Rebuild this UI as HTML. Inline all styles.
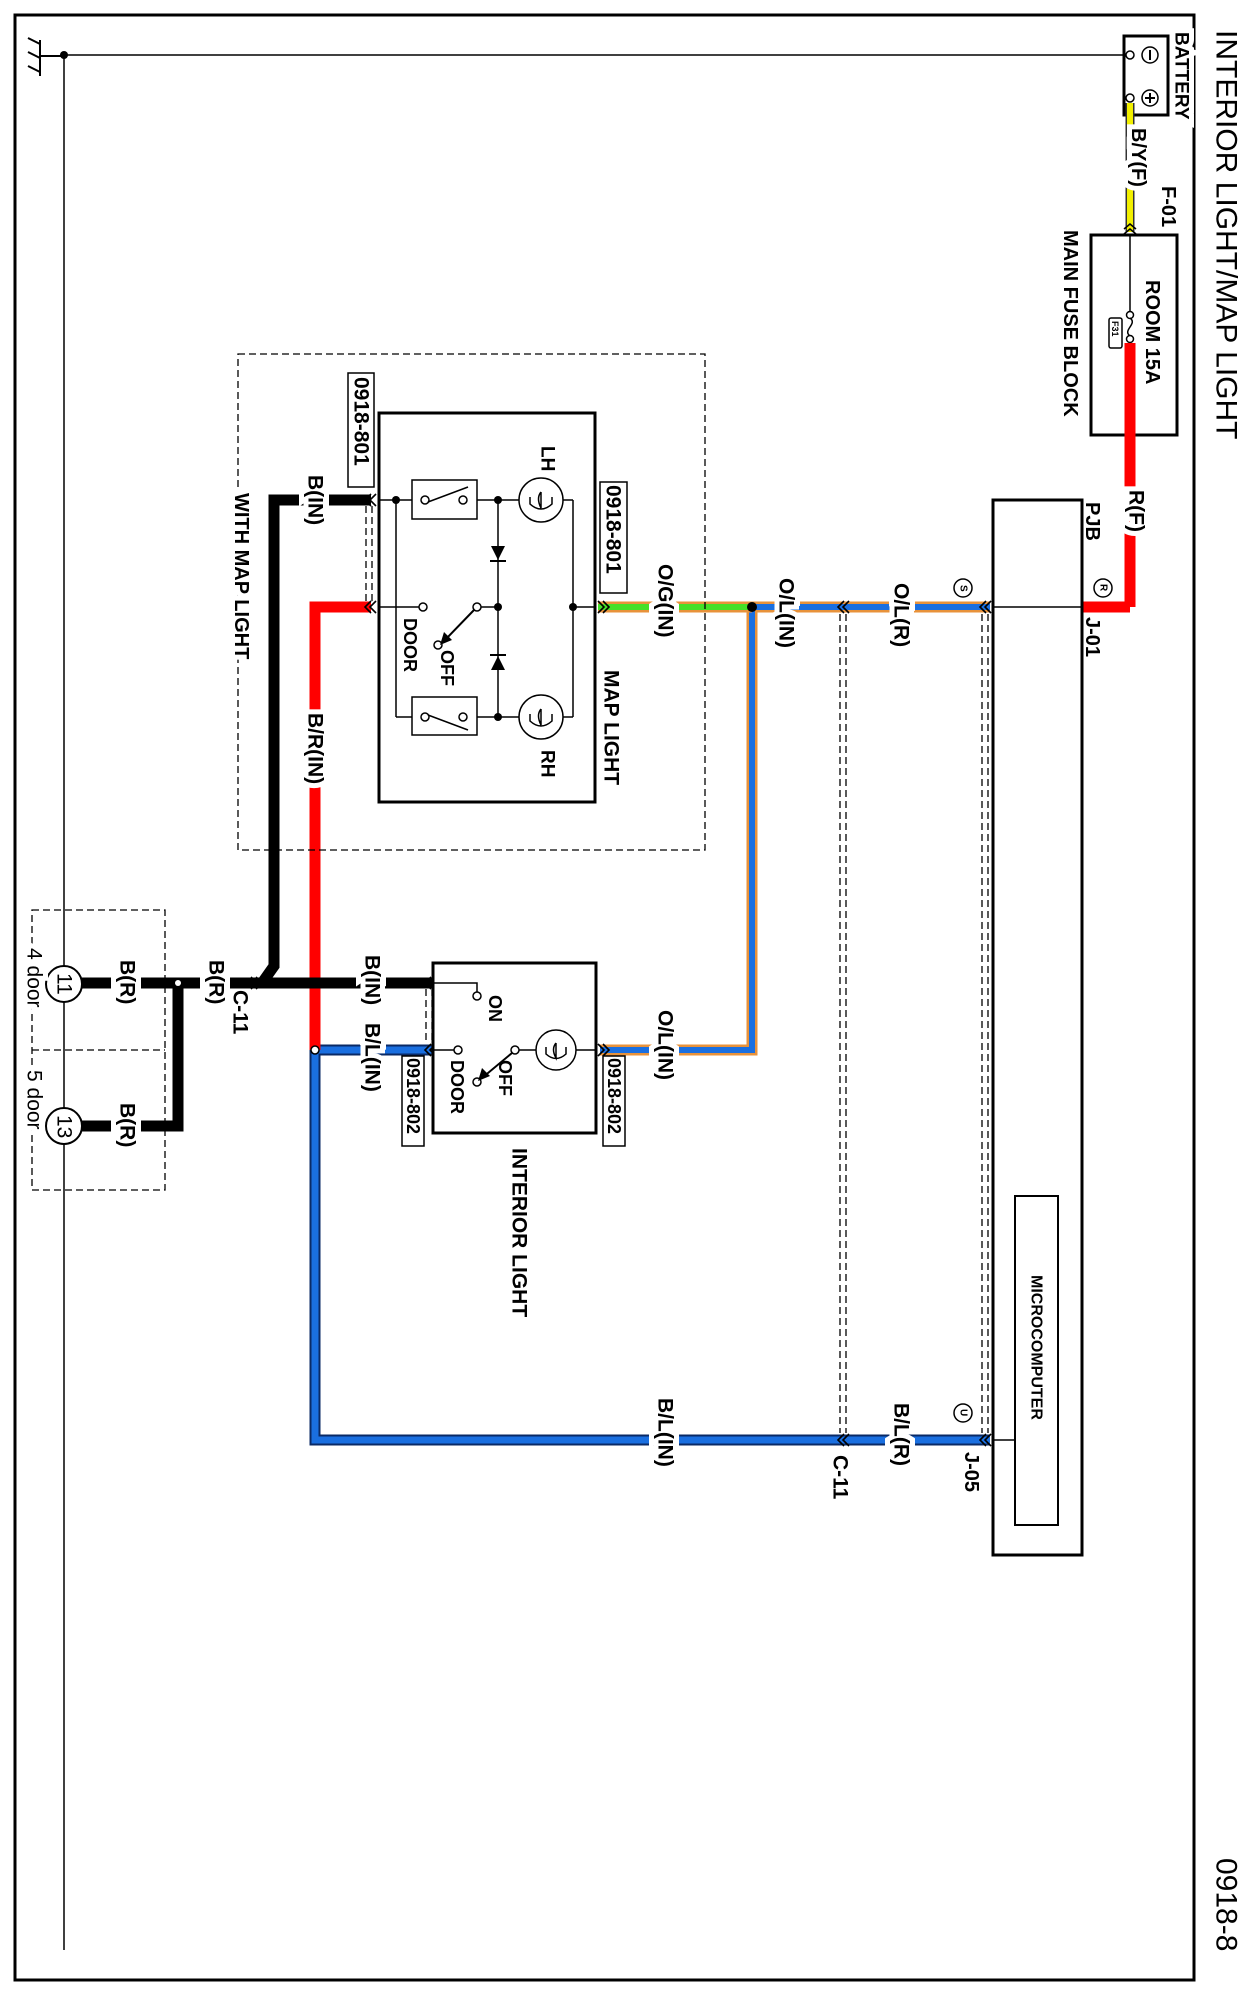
<!DOCTYPE html>
<html><head><meta charset="utf-8"><style>
html,body{margin:0;padding:0;background:#fff}
svg{display:block}
text{font-family:"Liberation Sans",Arial,sans-serif;font-weight:bold;fill:#000}
.lb{font-size:21px;paint-order:stroke;stroke:#fff;stroke-width:10px}
</style></head><body>
<svg width="1260" height="1996" viewBox="0 0 1260 1996" xmlns="http://www.w3.org/2000/svg">
<rect x="15" y="15" width="1179" height="1965" fill="none" stroke="#000" stroke-width="3"/>
<text transform="translate(1226,30) rotate(90)" dominant-baseline="central" style="font-size:30px;font-weight:normal">INTERIOR LIGHT/MAP LIGHT</text>
<text transform="translate(1226,1858) rotate(90)" dominant-baseline="central" style="font-size:30px;font-weight:normal">0918-8</text>

<!-- ground -->
<line x1="64" y1="55" x2="64" y2="1950" stroke="#000" stroke-width="1.5"/>
<line x1="64" y1="55" x2="1124" y2="55" stroke="#000" stroke-width="1.5"/>
<circle cx="64" cy="55" r="4"/>
<line x1="40" y1="40" x2="40" y2="76" stroke="#000" stroke-width="2"/>
<path d="M40 44 L28 38 M40 58 L28 52 M40 72 L28 66 M40 56 L64 56" stroke="#000" stroke-width="2" fill="none"/>

<!-- battery -->
<rect x="1124" y="36" width="44" height="79" fill="#fff" stroke="#000" stroke-width="3"/>
<circle cx="1130" cy="55" r="4" fill="#fff" stroke="#000" stroke-width="1.5"/>
<circle cx="1130" cy="98" r="4" fill="#fff" stroke="#000" stroke-width="1.5"/>
<circle cx="1150" cy="55" r="8" fill="none" stroke="#000" stroke-width="1.5"/><line x1="1150" y1="50" x2="1150" y2="60" stroke="#000" stroke-width="2"/>
<circle cx="1150" cy="98" r="8" fill="none" stroke="#000" stroke-width="1.5"/><line x1="1145" y1="98" x2="1155" y2="98" stroke="#000" stroke-width="2"/><line x1="1150" y1="93" x2="1150" y2="103" stroke="#000" stroke-width="2"/>
<text class="lb" transform="translate(1181,32) rotate(90)" dominant-baseline="central" style="font-size:19px">BATTERY</text>

<!-- yellow wire -->
<line x1="1130" y1="103" x2="1130" y2="232" stroke="#333" stroke-width="9"/>
<line x1="1130" y1="103" x2="1130" y2="232" stroke="#f2f000" stroke-width="6"/>
<text class="lb" transform="translate(1138,128) rotate(90)" dominant-baseline="central" style="font-size:20px">B/Y(F)</text>
<text class="lb" transform="translate(1168,186) rotate(90)" dominant-baseline="central" style="font-size:20px">F-01</text>
<path d="M1124 229 L1130 224 L1136 229 M1124 234 L1130 229 L1136 234" fill="none" stroke="#000" stroke-width="1.5"/>

<!-- fuse block -->
<rect x="1091" y="235" width="86" height="200" fill="none" stroke="#000" stroke-width="3"/>
<line x1="1130" y1="235" x2="1130" y2="312" stroke="#000" stroke-width="1.5"/>
<circle cx="1130" cy="315" r="3.5" fill="#fff" stroke="#000" stroke-width="1.5"/>
<path d="M1130 318 C1138 324,1122 330,1130 336" fill="none" stroke="#000" stroke-width="1.5"/>
<circle cx="1130" cy="339" r="3.5" fill="#fff" stroke="#000" stroke-width="1.5"/>
<line x1="1130" y1="343" x2="1130" y2="607" stroke="#f00" stroke-width="11"/>
<line x1="1130" y1="607" x2="1083" y2="607" stroke="#f00" stroke-width="11"/>
<text transform="translate(1152,280) rotate(90)" dominant-baseline="central" style="font-size:20px">ROOM 15A</text>
<rect x="1109" y="318" width="13" height="30" rx="2" fill="#fff" stroke="#000" stroke-width="1.5"/>
<text transform="translate(1115,321) rotate(90)" dominant-baseline="central" style="font-size:9px">F31</text>
<text transform="translate(1070,230) rotate(90)" dominant-baseline="central" style="font-size:20px">MAIN FUSE BLOCK</text>
<text class="lb" transform="translate(1136,490) rotate(90)" dominant-baseline="central">R(F)</text>

<!-- PJB -->
<rect x="993" y="500" width="89" height="1055" fill="#fff" stroke="#000" stroke-width="3"/>
<line x1="993" y1="607" x2="1082" y2="607" stroke="#000" stroke-width="1.5"/>
<line x1="993" y1="1440" x2="1015" y2="1440" stroke="#000" stroke-width="1.5"/>
<rect x="1015" y="1196" width="43" height="329" fill="none" stroke="#000" stroke-width="2"/>
<text transform="translate(1036,1275) rotate(90)" dominant-baseline="central" style="font-size:16px">MICROCOMPUTER</text>
<text transform="translate(1092,502) rotate(90)" dominant-baseline="central" style="font-size:20px">PJB</text>
<text transform="translate(1092,617) rotate(90)" dominant-baseline="central" style="font-size:20px">J-01</text>
<text transform="translate(971,1452) rotate(90)" dominant-baseline="central" style="font-size:20px">J-05</text>
<circle cx="1103" cy="588" r="9" fill="#fff" stroke="#000" stroke-width="1.5"/><text transform="translate(1103,584) rotate(90)" dominant-baseline="central" style="font-size:10px">R</text>
<circle cx="963" cy="588" r="9" fill="#fff" stroke="#000" stroke-width="1.5"/><text transform="translate(963,585) rotate(90)" dominant-baseline="central" style="font-size:10px">S</text>
<circle cx="963" cy="1413" r="9" fill="#fff" stroke="#000" stroke-width="1.5"/><text transform="translate(963,1409) rotate(90)" dominant-baseline="central" style="font-size:10px">U</text>

<!-- shields -->
<g stroke="#000" stroke-width="1.3" stroke-dasharray="7 4">
<line x1="982" y1="614" x2="982" y2="1433"/><line x1="988" y1="614" x2="988" y2="1433"/>
<line x1="840" y1="614" x2="840" y2="1433"/><line x1="846" y1="614" x2="846" y2="1433"/>
<line x1="366" y1="506" x2="366" y2="601"/><line x1="372" y1="506" x2="372" y2="601"/>
<line x1="426" y1="989" x2="426" y2="1044"/><line x1="432" y1="989" x2="432" y2="1044"/>
</g>

<!-- wires -->
<g fill="none">
<path d="M990 607 L752 607 L752 1050 L600 1050" stroke="#e8923a" stroke-width="11"/>
<path d="M990 607 L752 607 L752 1050 L600 1050" stroke="#1a6fe0" stroke-width="6"/>
<line x1="752" y1="607" x2="598" y2="607" stroke="#e8923a" stroke-width="11"/>
<line x1="752" y1="607" x2="598" y2="607" stroke="#44e028" stroke-width="6"/>
<path d="M990 1440 L315 1440 L315 1050 L433 1050" stroke="#0a2a66" stroke-width="11"/>
<path d="M990 1440 L315 1440 L315 1050 L433 1050" stroke="#1a6fe0" stroke-width="7"/>
<path d="M371 607 L315 607 L315 1050" stroke="#f00" stroke-width="11"/>
<path d="M371 500 L274 500 L274 966 L262 983" stroke="#000" stroke-width="11"/>
<path d="M433 983 L82 983 M178 983 L178 1126 L82 1126" stroke="#000" stroke-width="11"/>
</g>
<circle cx="752" cy="607" r="5"/>
<circle cx="315" cy="1050" r="4" fill="#fff" stroke="#000" stroke-width="1.5"/>
<circle cx="178" cy="983" r="3" fill="#fff"/>

<!-- chevrons -->
<g fill="none" stroke="#000" stroke-width="1.6">
<path d="M991 601 L985 607 L991 613 M986 601 L980 607 L986 613"/>
<path d="M849 601 L843 607 L849 613 M844 601 L838 607 L844 613"/>
<path d="M991 1434 L985 1440 L991 1446 M986 1434 L980 1440 L986 1446"/>
<path d="M849 1434 L843 1440 L849 1446 M844 1434 L838 1440 L844 1446"/>
<path d="M598 601 L604 607 L598 613 M603 601 L609 607 L603 613"/>
<path d="M598 1044 L604 1050 L598 1056 M603 1044 L609 1050 L603 1056"/>
<path d="M376 494 L370 500 L376 506 M371 494 L365 500 L371 506"/>
<path d="M376 601 L370 607 L376 613 M371 601 L365 607 L371 613"/>
<path d="M436 977 L430 983 L436 989 M431 977 L425 983 L431 989"/>
<path d="M436 1044 L430 1050 L436 1056 M431 1044 L425 1050 L431 1056"/>
<path d="M256 977 L262 983 L256 989 M251 977 L257 983 L251 989"/>
</g>

<!-- map light -->
<rect x="238" y="354" width="467" height="496" fill="none" stroke="#000" stroke-width="1.3" stroke-dasharray="7 4"/>
<rect x="379" y="413" width="216" height="389" fill="none" stroke="#000" stroke-width="3"/>
<g stroke="#000" stroke-width="1.5" fill="none">
<line x1="379" y1="500" x2="412" y2="500"/><line x1="477" y1="500" x2="519" y2="500"/><line x1="563" y1="500" x2="573" y2="500"/>
<line x1="396" y1="500" x2="396" y2="717"/><line x1="396" y1="717" x2="412" y2="717"/><line x1="477" y1="717" x2="519" y2="717"/><line x1="563" y1="717" x2="573" y2="717"/>
<line x1="573" y1="500" x2="573" y2="717"/><line x1="573" y1="607" x2="595" y2="607"/>
<line x1="498" y1="500" x2="498" y2="717"/>
<line x1="379" y1="607" x2="419" y2="607"/><line x1="481" y1="607" x2="498" y2="607"/>
<rect x="412" y="480" width="65" height="39"/><rect x="412" y="697" width="65" height="38"/>
<circle cx="425" cy="500" r="4" fill="#fff"/><circle cx="463" cy="500" r="4" fill="#fff"/><line x1="428" y1="502" x2="468" y2="487"/>
<circle cx="425" cy="717" r="4" fill="#fff"/><circle cx="463" cy="717" r="4" fill="#fff"/><line x1="428" y1="715" x2="468" y2="730"/>
<circle cx="423" cy="607" r="4" fill="#fff"/><circle cx="477" cy="607" r="4" fill="#fff"/><circle cx="438" cy="645" r="4" fill="#fff"/>
<line x1="474" y1="610" x2="445" y2="640" stroke-width="2"/>
<circle cx="541" cy="500" r="22"/><circle cx="541" cy="717" r="22"/>
<path d="M530 497 L530 504 Q541 514 552 504 L552 497 M541 492 L541 508 Q536 498 541 492"/>
<path d="M530 714 L530 721 Q541 731 552 721 L552 714 M541 709 L541 725 Q536 715 541 709"/>
</g>
<path d="M440 645 L444 632 L452 640 Z"/>
<path d="M491 546 L505 546 L498 560 Z"/><line x1="490" y1="561" x2="506" y2="561" stroke="#000" stroke-width="2"/>
<path d="M491 670 L505 670 L498 656 Z"/><line x1="490" y1="655" x2="506" y2="655" stroke="#000" stroke-width="2"/>
<circle cx="396" cy="500" r="4"/><circle cx="498" cy="500" r="4"/><circle cx="498" cy="607" r="4"/><circle cx="498" cy="717" r="4"/><circle cx="573" cy="607" r="4"/>
<rect x="348" y="373" width="26" height="114" fill="#fff" stroke="#000" stroke-width="1.5"/>
<text transform="translate(361,377) rotate(90)" dominant-baseline="central" style="font-size:21px">0918-801</text>
<rect x="600" y="482" width="27" height="111" fill="#fff" stroke="#000" stroke-width="1.5"/>
<text transform="translate(613,485) rotate(90)" dominant-baseline="central" style="font-size:21px">0918-801</text>
<text transform="translate(547,446) rotate(90)" dominant-baseline="central" style="font-size:19px">LH</text>
<text transform="translate(547,750) rotate(90)" dominant-baseline="central" style="font-size:19px">RH</text>
<text transform="translate(410,618) rotate(90)" dominant-baseline="central" style="font-size:18px">DOOR</text>
<text transform="translate(447,650) rotate(90)" dominant-baseline="central" style="font-size:18px">OFF</text>
<text transform="translate(611,670) rotate(90)" dominant-baseline="central" style="font-size:21px">MAP LIGHT</text>
<text class="lb" transform="translate(241,493) rotate(90)" dominant-baseline="central" style="font-size:20px">WITH MAP LIGHT</text>

<!-- interior light -->
<rect x="433" y="963" width="163" height="170" fill="#fff" stroke="#000" stroke-width="3"/>
<g stroke="#000" stroke-width="1.5" fill="none">
<path d="M433 983 L477 983 L477 992"/>
<circle cx="477" cy="996" r="4" fill="#fff"/>
<line x1="433" y1="1050" x2="454" y2="1050"/><circle cx="458" cy="1050" r="4" fill="#fff"/>
<circle cx="515" cy="1050" r="4" fill="#fff"/><line x1="519" y1="1050" x2="536" y2="1050"/>
<circle cx="556" cy="1050" r="20"/><line x1="576" y1="1050" x2="596" y2="1050"/>
<path d="M546 1047 L546 1054 Q556 1063 566 1054 L566 1047 M556 1043 L556 1058 Q551 1049 556 1043"/>
<circle cx="477" cy="1082" r="4" fill="#fff"/>
<line x1="512" y1="1053" x2="482" y2="1078" stroke-width="2"/>
</g>
<path d="M478 1081 L482 1068 L490 1076 Z"/>
<text transform="translate(495,995) rotate(90)" dominant-baseline="central" style="font-size:18px">ON</text>
<text transform="translate(457,1060) rotate(90)" dominant-baseline="central" style="font-size:18px">DOOR</text>
<text transform="translate(505,1060) rotate(90)" dominant-baseline="central" style="font-size:18px">OFF</text>
<rect x="402" y="1056" width="22" height="90" fill="#fff" stroke="#000" stroke-width="1.5"/>
<text transform="translate(413,1058) rotate(90)" dominant-baseline="central" style="font-size:18px">0918-802</text>
<rect x="603" y="1056" width="22" height="90" fill="#fff" stroke="#000" stroke-width="1.5"/>
<text transform="translate(614,1058) rotate(90)" dominant-baseline="central" style="font-size:18px">0918-802</text>
<text transform="translate(519,1148) rotate(90)" dominant-baseline="central" style="font-size:21px">INTERIOR LIGHT</text>

<!-- ground points -->
<rect x="32" y="910" width="133" height="280" fill="none" stroke="#000" stroke-width="1.3" stroke-dasharray="7 4"/>
<line x1="32" y1="1050" x2="165" y2="1050" stroke="#000" stroke-width="1.3" stroke-dasharray="7 4"/>
<circle cx="64" cy="984" r="18" fill="#fff" stroke="#000" stroke-width="2"/>
<text transform="translate(64,973) rotate(90)" dominant-baseline="central" style="font-size:21px;font-weight:normal">11</text>
<circle cx="64" cy="1126" r="18" fill="#fff" stroke="#000" stroke-width="2"/>
<text transform="translate(64,1115) rotate(90)" dominant-baseline="central" style="font-size:21px;font-weight:normal">13</text>
<text class="lb" transform="translate(34,948) rotate(90)" dominant-baseline="central" style="font-size:21px;font-weight:normal">4 door</text>
<text class="lb" transform="translate(34,1070) rotate(90)" dominant-baseline="central" style="font-size:21px;font-weight:normal">5 door</text>

<!-- wire labels -->
<text class="lb" transform="translate(127,960) rotate(90)" dominant-baseline="central">B(R)</text>
<text class="lb" transform="translate(216,960) rotate(90)" dominant-baseline="central">B(R)</text>
<text class="lb" transform="translate(127,1103) rotate(90)" dominant-baseline="central">B(R)</text>
<text transform="translate(240,990) rotate(90)" dominant-baseline="central" style="font-size:21px">C-11</text>
<text class="lb" transform="translate(372,955) rotate(90)" dominant-baseline="central">B(IN)</text>
<text class="lb" transform="translate(372,1023) rotate(90)" dominant-baseline="central">B/L(IN)</text>
<text class="lb" transform="translate(315,475) rotate(90)" dominant-baseline="central">B(IN)</text>
<text class="lb" transform="translate(315,713) rotate(90)" dominant-baseline="central">B/R(IN)</text>
<text class="lb" transform="translate(665,564) rotate(90)" dominant-baseline="central">O/G(IN)</text>
<text class="lb" transform="translate(786,578) rotate(90)" dominant-baseline="central">O/L(IN)</text>
<text class="lb" transform="translate(901,583) rotate(90)" dominant-baseline="central">O/L(R)</text>
<text class="lb" transform="translate(665,1010) rotate(90)" dominant-baseline="central">O/L(IN)</text>
<text class="lb" transform="translate(665,1398) rotate(90)" dominant-baseline="central">B/L(IN)</text>
<text class="lb" transform="translate(901,1403) rotate(90)" dominant-baseline="central">B/L(R)</text>
<text transform="translate(840,1455) rotate(90)" dominant-baseline="central" style="font-size:21px">C-11</text>
</svg>
</body></html>
